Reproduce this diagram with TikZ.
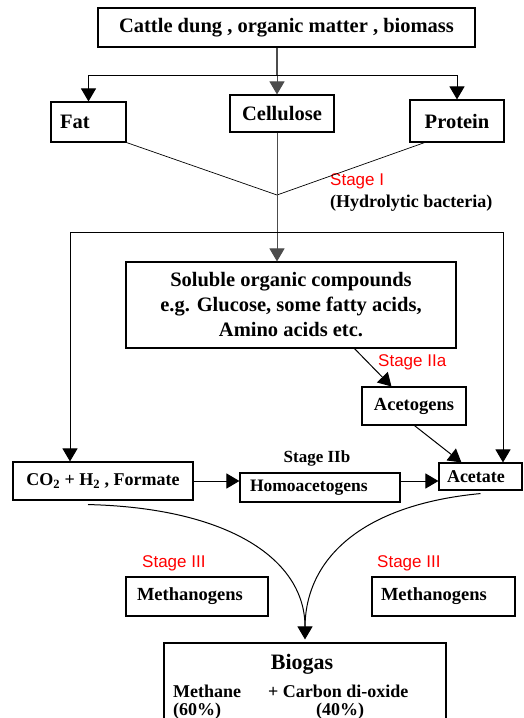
\documentclass[tikz,border=0pt]{standalone}
\usepackage{fontspec}
\setmainfont{Liberation Serif}
\setsansfont{Liberation Sans}
\usetikzlibrary{arrows.meta,calc}
\begin{document}
\begin{tikzpicture}[x=1pt,y=-1pt,
  box/.style={draw,line width=1.1pt,inner sep=0pt,align=center,font=\bfseries\fontsize{20.5}{25}\selectfont},
  lbox/.style={box,align=left},
  arr/.style={line width=1pt,-{Triangle[width=15pt,length=13pt]}},
  main/.style={line width=1.6pt,draw=black!70},
  fan/.style={line width=0.7pt},
  stagelbl/.style={text=red,font=\sffamily\fontsize{17}{19}\selectfont,inner sep=0pt,anchor=west},
  lbl/.style={font=\bfseries\fontsize{18}{21}\selectfont,inner sep=0pt}]
\useasboundingbox (0,0) rectangle (523,718);
\clip (0,0) rectangle (523,718);
% boxes
\node[box,minimum width=377pt,minimum height=39pt] (top) at (286.5,27.5) {Cattle dung , organic matter , biomass};
\node[lbox,minimum width=75pt,minimum height=40pt,text width=57pt] (fat) at (88.5,122) {Fat};
\node[box,minimum width=104pt,minimum height=37pt] (cell) at (282,113.5) {Cellulose};
\node[box,minimum width=94pt,minimum height=42pt] (prot) at (457,121) {Protein};
\node[box,minimum width=330pt,minimum height=86pt] (sol) at (291,305) {Soluble organic compounds\\e.g. Glucose, some fatty acids,\\Amino acids etc.};
\node[box,minimum width=104pt,minimum height=38pt,font=\bfseries\fontsize{18.5}{21}\selectfont] (aceto) at (414,406) {Acetogens};
\node[box,minimum width=180pt,minimum height=38pt,font=\bfseries\fontsize{18}{21}\selectfont] (co2) at (103,481) {CO\textsubscript{2} + H\textsubscript{2} , Formate};
\node[lbox,minimum width=160pt,minimum height=29pt,text width=140pt,font=\bfseries\fontsize{17.5}{20}\selectfont] (homo) at (320,487.5) {Homoacetogens};
\node[lbox,minimum width=83pt,minimum height=27pt,text width=67pt,font=\bfseries\fontsize{18}{21}\selectfont] (acet) at (480.5,476.5) {Acetate};
\node[lbox,minimum width=142pt,minimum height=39pt,text width=120pt,font=\bfseries\fontsize{18.5}{21}\selectfont] (meth1) at (197,596.5) {Methanogens};
\node[lbox,minimum width=143pt,minimum height=39pt,text width=125pt,font=\bfseries\fontsize{18.5}{21}\selectfont] (meth2) at (443.5,596.5) {Methanogens};
\node[box,minimum width=282pt,minimum height=94pt] (bio) at (305,690) {};
% biogas texts
\node[lbl,font=\bfseries\fontsize{22}{24}\selectfont] (bg) at (302,664) {Biogas};
\node[lbl,anchor=west] (meth) at (173,691) {Methane};
\node[lbl,anchor=west] (cdo) at (268,691) {+ Carbon di-oxide};
\node[lbl,anchor=west] (p60) at (173,711) {(60\%)};
\node[lbl] (p40) at (340,711) {(40\%)};
% stage labels
\node[stagelbl] (s1) at (330,181) {Stage I};
\node[lbl,anchor=west] (hyd) at (330,203) {(Hydrolytic bacteria)};
\node[stagelbl] (s2a) at (378,362) {Stage IIa};
\node[lbl,font=\bfseries\fontsize{17}{20}\selectfont] (s2b) at (317,458) {Stage IIb};
\node[stagelbl] (s3a) at (142,563) {Stage III};
\node[stagelbl] (s3b) at (377,563) {Stage III};
% connectors
\coordinate (j) at (277,75);
\draw[main] (top.south -| j) -- (j);
\draw[main,arr] (j) -- (j |- cell.north);
\draw[arr] (j) -| (fat.north);
\draw[arr] (j) -| (prot.north);
\coordinate (h) at (277,195);
\draw[fan] (fat.south east) -- (h) -- ($(prot.south west)+(18,-1)$);
\draw[main,arr] (j |- cell.south) -- (j |- sol.north);
\coordinate (dl) at (70,232);
\coordinate (dr) at (503,232);
\draw[line width=1pt] (dl) -- (dr);
\draw[arr] (dl) -- (dl |- co2.north);
\draw[arr] (dr) -- (dr |- acet.north);
\draw[arr] ($(sol.south west)+(229,0)$) -- ($(aceto.north west)+(30,0)$);
\draw[arr] ($(aceto.south west)+(53,0)$) -- ($(acet.north west)+(23,0)$);
\draw[arr] (co2.east) -- (co2.east -| homo.west);
\draw[arr] (homo.east |- co2.east) -- (acet.west |- co2.east);
\draw[arr] ($(co2.south)+(-15,4)$) .. controls (230,508) and (305,560) .. ($(bio.north)+(0,-3)$);
\draw[line width=1pt] ($(acet.south)+(0,3)$) .. controls (360,505) and (305,560) .. (305,628);
\end{tikzpicture}
\end{document}
